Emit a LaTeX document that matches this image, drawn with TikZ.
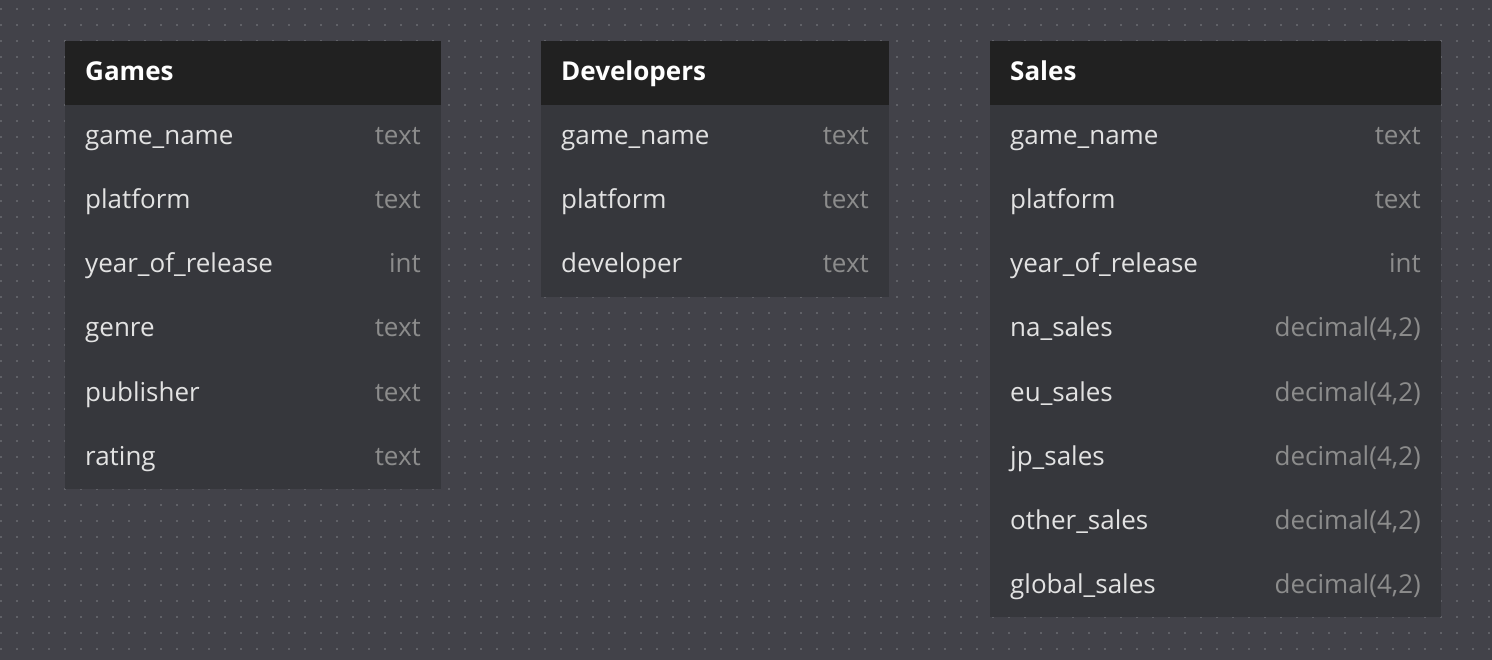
\documentclass[tikz,border=0pt]{standalone}
\usepackage{fontspec}
\setmainfont{Open Sans}
\definecolor{bg}{HTML}{424249}
\definecolor{dotc}{HTML}{606167}
\definecolor{hdrc}{HTML}{212121}
\definecolor{bodyc}{HTML}{36373C}
\definecolor{fieldc}{HTML}{E2E2E2}
\definecolor{typec}{HTML}{8C8C8C}
\tikzset{
  hdrbox/.style={fill=hdrc, draw=none, anchor=north west, inner sep=0pt},
  bodybox/.style={fill=bodyc, draw=none, anchor=north west, inner sep=0pt},
  title/.style={anchor=base west, inner sep=0pt, text=white, font=\fontsize{26}{31}\selectfont\bfseries},
  field/.style={anchor=base west, inner sep=0pt, text=fieldc, font=\fontsize{26}{31}\selectfont},
  ftype/.style={anchor=base east, inner sep=0pt, text=typec, font=\fontsize{26}{31}\selectfont},
}
\begin{document}
\begin{tikzpicture}[x=1pt,y=-1pt]
\fill[bg] (0,0) rectangle (1492,660);
\useasboundingbox (0,0) rectangle (1492,660);
\foreach \i in {0,...,93}{
  \foreach \j in {0,...,40}{
    \fill[dotc] ({1+16*\i-1.25},{9+16*\j-1.25}) rectangle ++(2.5,2.5);
  }
}
% Games
\node[hdrbox, minimum width=376pt, minimum height=64pt] (gh) at (65,41) {};
\node[bodybox, minimum width=376pt, minimum height=384pt] (gb) at (65,105) {};
\node[title] (gt) at (85,81) {Games};
\foreach \n/\t [count=\k from 0] in {game\_name/text, platform/text, year\_of\_release/int, genre/text, publisher/text, rating/text}{
  \node[field] (gf\k) at (85,{145+64*\k}) {\n};
  \node[ftype] (gy\k) at (421,{145+64*\k}) {\t};
}
% Developers
\node[hdrbox, minimum width=348pt, minimum height=64pt] (dh) at (541,41) {};
\node[bodybox, minimum width=348pt, minimum height=192pt] (db) at (541,105) {};
\node[title] (dt) at (561,81) {Developers};
\foreach \n/\t [count=\k from 0] in {game\_name/text, platform/text, developer/text}{
  \node[field] (df\k) at (561,{145+64*\k}) {\n};
  \node[ftype] (dy\k) at (869,{145+64*\k}) {\t};
}
% Sales
\node[hdrbox, minimum width=451pt, minimum height=64pt] (sh) at (990,41) {};
\node[bodybox, minimum width=451pt, minimum height=512pt] (sb) at (990,105) {};
\node[title] (st) at (1010,81) {Sales};
\foreach \n/\t [count=\k from 0] in {game\_name/text, platform/text, year\_of\_release/int, na\_sales/{decimal(4,2)}, eu\_sales/{decimal(4,2)}, jp\_sales/{decimal(4,2)}, other\_sales/{decimal(4,2)}, global\_sales/{decimal(4,2)}}{
  \node[field] (sf\k) at (1010,{145+64*\k}) {\n};
  \node[ftype] (sy\k) at (1421,{145+64*\k}) {\t};
}
\end{tikzpicture}
\end{document}
